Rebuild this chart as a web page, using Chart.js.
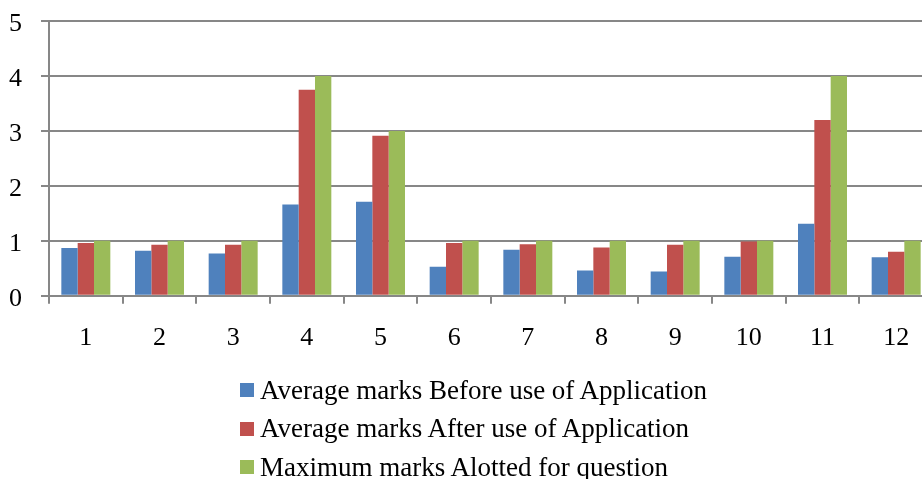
<!DOCTYPE html>
<html>
<head>
<meta charset="utf-8">
<script src="https://cdn.jsdelivr.net/npm/chart.js@4/dist/chart.umd.min.js"></script>
<style>
	html, body { margin:0; padding:0; background:#fff; overflow:hidden; }
	#wrap { position:relative; width:922px; height:479px; overflow:hidden; }
	#box { position:absolute; left:0; top:0; width:933px; height:373px; }
	#legend { position:absolute; left:240px; top:371px; margin:0; padding:0; list-style:none;
		font-family:"Liberation Serif", "Times New Roman", serif; font-size:27px; color:#000; }
	#legend li { height:38.5px; display:flex; align-items:center; white-space:nowrap; }
	#legend span { display:inline-block; width:14px; height:14px; margin-right:6px; }
</style>
</head>
<body>
<div id="wrap">
	<div id="box"><canvas id="chart"></canvas></div>
	<ul id="legend"></ul>
</div>
<script>
// 문항 번호
var questions = ['1', '2', '3', '4', '5', '6', '7', '8', '9', '10', '11', '12'];
// 시리즈 값
var beforeApp = [0.87, 0.82, 0.77, 1.66, 1.71, 0.53, 0.84, 0.46, 0.44, 0.71, 1.31, 0.70];
var afterApp  = [0.96, 0.93, 0.93, 3.75, 2.91, 0.96, 0.94, 0.88, 0.93, 0.99, 3.20, 0.80];
var maxMarks  = [1, 1, 1, 4, 3, 1, 1, 1, 1, 1, 4, 1];
var seriesNames = [
	'Average marks Before use of Application',
	'Average marks After use of Application',
	'Maximum marks Alotted for question'
];
var yTicks = [0, 1, 2, 3, 4, 5];

var colors = ['#4F81BD', '#C0504D', '#9BBB59'];
var gridColor = '#878787';
var font = {family:'"Liberation Serif", "Times New Roman", serif', size:26};

var chartData = {
	labels: questions,
	datasets: [beforeApp, afterApp, maxMarks].map(function (d, i) {
		return {
			label: seriesNames[i],
			data: d,
			backgroundColor: colors[i],
			borderWidth: 0,
			categoryPercentage: 0.665,
			barPercentage: 1
		};
	})
};

var canvas = document.getElementById('chart');
var chart = new Chart(canvas, {
	type: 'bar',
	data: chartData,
	options: {
		responsive: true,
		maintainAspectRatio: false,
		animation: false,
		layout: {padding: {top: 21, left: 0, right: 0, bottom: 0}},
		plugins: {legend: {display: false}, tooltip: {enabled: false}},
		scales: {
			x: {
				grid: {offset: true, drawOnChartArea: false, drawTicks: true, tickLength: 8, color: gridColor, lineWidth: 2},
				border: {color: gridColor, width: 2},
				ticks: {color: '#000', font: font, padding: 19, maxRotation: 0, autoSkip: false}
			},
			y: {
				min: 0,
				max: 5,
				afterFit: function (scale) {
					// 축 폭 고정, 라벨 여백 무시
					scale.width = 49;
					scale.paddingTop = 0;
					scale.paddingBottom = 0;
				},
				afterBuildTicks: function (scale) {
					scale.ticks = yTicks.map(function (v) { return {value: v}; });
				},
				grid: {color: gridColor, lineWidth: 2, tickLength: 8},
				border: {color: gridColor, width: 2},
				ticks: {color: '#000', font: font, padding: 19, stepSize: 1, labelOffset: 3}
			}
		}
	}
});

// 범례 (세로 목록)
var legend = document.getElementById('legend');
chartData.datasets.forEach(function (ds) {
	var li = document.createElement('li');
	var sw = document.createElement('span');
	sw.style.background = ds.backgroundColor;
	li.appendChild(sw);
	li.appendChild(document.createTextNode(ds.label));
	legend.appendChild(li);
});
</script>
</body>
</html>
